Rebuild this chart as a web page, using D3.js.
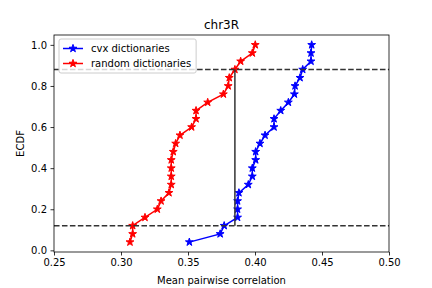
<!DOCTYPE html>
<html>
<head>
<meta charset="utf-8">
<script src="https://cdn.jsdelivr.net/npm/d3@7"></script>
<style>
  body { margin: 0; background: #fff; }
  text { font-family: "DejaVu Sans", sans-serif; }
</style>
</head>
<body>
<script>
// ECDF of mean pairwise correlation, 25 dictionaries per group
var ecdfLevels = d3.range(1, 26).map(function(i) { return +(i * 0.04).toFixed(2); });

var cvxValues = [0.351, 0.374, 0.377, 0.387, 0.387, 0.387, 0.388, 0.395, 0.398, 0.398,
  0.4005, 0.4005, 0.4037, 0.4075, 0.4142, 0.4142, 0.4192, 0.4249, 0.4294, 0.4299,
  0.4336, 0.4356, 0.4418, 0.4418, 0.4423];

var randomValues = [0.3067, 0.3087, 0.3087, 0.3179, 0.3271, 0.3299, 0.3358, 0.3375, 0.3375, 0.3375,
  0.3375, 0.339, 0.3408, 0.344, 0.3527, 0.356, 0.356, 0.3647, 0.3764, 0.380,
  0.3808, 0.385, 0.3893, 0.398, 0.4002];

var seriesNames = ["cvx dictionaries", "random dictionaries"];
var seriesColors = ["#0000ff", "#ff0000"];

// KS statistic markers
var ksX = 0.385;
var ksLow = 0.12;
var ksHigh = 0.88;

var xTicks = [0.25, 0.30, 0.35, 0.40, 0.45, 0.50];
var yTicks = [0.0, 0.2, 0.4, 0.6, 0.8, 1.0];

var svgWidth = 432;
var svgHeight = 288;
var margin = { top: 35, right: 43, bottom: 36, left: 54 };
var chartWidth = svgWidth - margin.left - margin.right;
var chartHeight = svgHeight - margin.top - margin.bottom;

var svg = d3.select("body")
  .append("svg")
  .attr("width", svgWidth)
  .attr("height", svgHeight);

var chartGroup = svg.append("g")
  .attr("transform", `translate(${margin.left}, ${margin.top})`);

var xScale = d3.scaleLinear()
  .domain([0.25, 0.50])
  .range([0, chartWidth]);

var yScale = d3.scaleLinear()
  .domain([-0.008, 1.048])
  .range([chartHeight, 0]);

svg.append("defs").append("clipPath").attr("id", "plotclip")
  .append("rect").attr("width", chartWidth).attr("height", chartHeight);

var plot = chartGroup.append("g").attr("clip-path", "url(#plotclip)");

var line = d3.line()
  .x(d => xScale(d[0]))
  .y(d => yScale(d[1]));

var star = d3.symbol().type(d3.symbolStar).size(19);

var allSeries = [cvxValues, randomValues];
allSeries.forEach(function(vals, i) {
  var pts = vals.map((v, j) => [v, ecdfLevels[j]]);
  plot.append("path")
    .datum(pts)
    .attr("fill", "none")
    .attr("stroke", seriesColors[i])
    .attr("stroke-width", 1.5)
    .attr("d", line);
  plot.selectAll(".pt" + i)
    .data(pts)
    .enter()
    .append("path")
    .attr("transform", d => `translate(${xScale(d[0])},${yScale(d[1])})`)
    .attr("d", star)
    .attr("fill", seriesColors[i])
    .attr("stroke", seriesColors[i])
    .attr("stroke-width", 1);
});

// dashed horizontal lines and vertical KS line
[ksLow, ksHigh].forEach(function(v) {
  plot.append("line")
    .attr("x1", 0).attr("x2", chartWidth)
    .attr("y1", yScale(v)).attr("y2", yScale(v))
    .attr("stroke", "#333")
    .attr("stroke-width", 1.5)
    .attr("stroke-dasharray", "5.55,2.4");
});

plot.append("line")
  .attr("x1", xScale(ksX)).attr("x2", xScale(ksX))
  .attr("y1", yScale(ksLow)).attr("y2", yScale(ksHigh))
  .attr("stroke", "#333")
  .attr("stroke-width", 1.5);

// axes
var bottomAxis = d3.axisBottom(xScale).tickValues(xTicks).tickFormat(d3.format(".2f")).tickSize(3.5).tickPadding(3.5);
var leftAxis = d3.axisLeft(yScale).tickValues(yTicks).tickFormat(d3.format(".1f")).tickSize(3.5).tickPadding(3.5);

var gx = chartGroup.append("g")
  .attr("transform", `translate(0, ${chartHeight})`)
  .call(bottomAxis);
var gy = chartGroup.append("g")
  .call(leftAxis);

[gx, gy].forEach(function(g) {
  g.select(".domain").remove();
  g.selectAll("text").attr("font-size", 10).attr("fill", "#000").attr("font-family", "DejaVu Sans, sans-serif");
  g.selectAll("line").attr("stroke", "#000").attr("stroke-width", 0.8);
});

chartGroup.append("rect")
  .attr("width", chartWidth)
  .attr("height", chartHeight)
  .attr("fill", "none")
  .attr("stroke", "#000")
  .attr("stroke-width", 0.8);

// titles
svg.append("text")
  .attr("x", margin.left + chartWidth / 2)
  .attr("y", margin.top - 6)
  .attr("text-anchor", "middle")
  .attr("font-size", 12)
  .text("chr3R");

svg.append("text")
  .attr("x", margin.left + chartWidth / 2)
  .attr("y", svgHeight - 4)
  .attr("text-anchor", "middle")
  .attr("font-size", 10)
  .text("Mean pairwise correlation");

svg.append("text")
  .attr("transform", `translate(24, ${margin.top + chartHeight / 2}) rotate(-90)`)
  .attr("text-anchor", "middle")
  .attr("font-size", 10)
  .text("ECDF");

// legend
var legend = chartGroup.append("g").attr("transform", "translate(5,4)");
var legendBox = legend.append("rect")
  .attr("rx", 2).attr("ry", 2)
  .attr("fill", "#fff")
  .attr("fill-opacity", 0.8)
  .attr("stroke", "#cccccc")
  .attr("stroke-width", 1);

var maxW = 0;
seriesNames.forEach(function(name, i) {
  var cy = 9.5 + i * 15;
  legend.append("line")
    .attr("x1", 4).attr("x2", 24)
    .attr("y1", cy).attr("y2", cy)
    .attr("stroke", seriesColors[i])
    .attr("stroke-width", 1.5);
  legend.append("path")
    .attr("transform", `translate(14,${cy})`)
    .attr("d", star)
    .attr("fill", seriesColors[i])
    .attr("stroke", seriesColors[i]);
  var t = legend.append("text")
    .attr("x", 32)
    .attr("y", cy)
    .attr("dy", "0.35em")
    .attr("font-size", 10)
    .text(name);
  maxW = Math.max(maxW, t.node().getComputedTextLength());
});
legendBox.attr("width", 32 + maxW + 5).attr("height", 34);
</script>
</body>
</html>
